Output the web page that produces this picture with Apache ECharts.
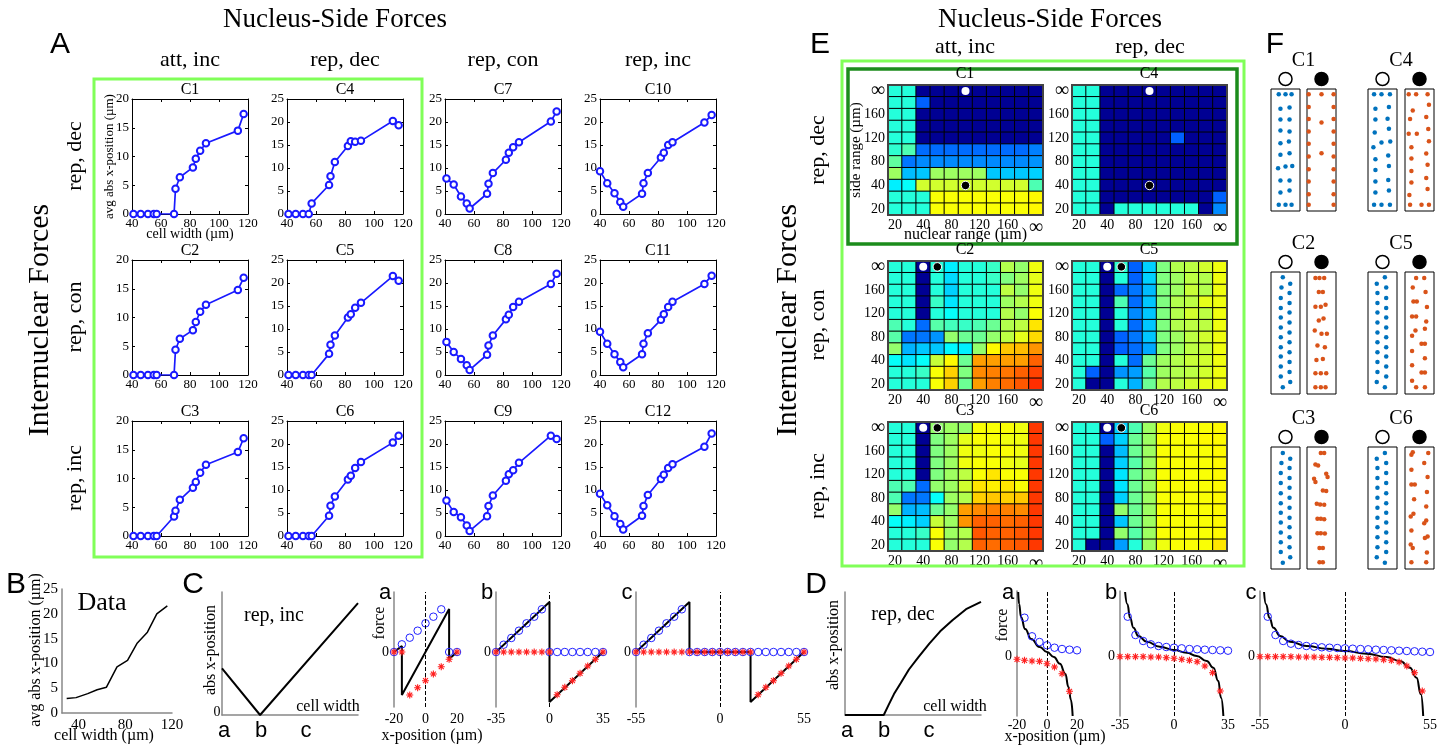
<!DOCTYPE html>
<html><head><meta charset="utf-8">
<script src="https://cdn.jsdelivr.net/npm/echarts@6.0.0/dist/echarts.min.js"></script>
<style>html,body{margin:0;padding:0;background:#fff}#c{width:1448px;height:746px}</style>
</head><body><div id="c"></div>
<script>
// ---------------- DATA ----------------
// Panel A: cell widths (µm) and avg abs x-position (µm)
const widthsA1 = [41,46,51,55,57,69,70,73,82,84,87,91,113,117];
const widthsA2 = [40,45,50,54,56,69,70,73,82,84,87,90,112,117];
const c1  = [0,0,0,0,0,0,4.4,6.4,8.1,9.6,11.0,12.3,14.5,17.4];
const c2  = [0,0,0,0,0,0,4.4,6.3,7.8,9.2,11.0,12.2,14.8,16.9];
const c3  = [0,0,0,0,0,3.4,4.4,6.3,8.4,9.4,11.0,12.4,14.6,17.0];
const c4  = [0,0,0,0,2.3,6.3,8.2,11.3,14.8,15.8,15.7,15.9,20.2,19.3];
const c5  = [0,0,0,0,0,4.6,6.6,8.6,12.5,13.2,14.6,15.7,21.5,20.5];
const c6  = [0,0,0,0,0,4.4,6.6,8.6,12.3,13.1,14.8,16.1,20.3,21.8];
const c7  = [7.7,6.4,3.8,2.3,1.2,4.4,6.6,8.9,11.8,13.3,14.5,15.6,20.1,22.3];
const c8  = [7.2,5.0,3.5,2.1,1.1,4.4,6.4,8.6,12.1,13.1,14.8,15.9,19.8,22.0];
const c9  = [7.7,5.2,4.1,2.3,1.1,4.3,6.5,8.8,12.0,13.4,14.3,15.9,21.8,21.1];
const c10 = [9.3,6.7,4.5,2.6,1.6,4.4,6.7,8.9,12.3,13.3,15.0,15.6,19.9,21.5];
const c11 = [9.4,6.8,4.5,2.8,1.7,4.5,6.8,9.1,12.0,13.2,14.8,15.9,19.8,21.6];
const c12 = [9.2,6.7,4.3,2.6,1.4,4.4,6.5,8.9,12.4,13.3,14.8,15.6,19.4,22.3];

// Panel B: measured data
const bWidth = [30,38,48,56,64,73,82,90,99,107,116];
const bPos   = [2.9,3.1,3.9,4.7,5.2,9.3,10.6,14.0,16.3,20.0,21.6];
const bTicksX = [40,80,120];

// Schematics (normalised)
const schemCx = [0,0.28,1];
const schemCy = [0.38,0,0.91];
const schemDx = [0,0.285,0.32,0.36,0.41,0.47,0.54,0.62,0.70,0.79,0.89,1.0];
const schemDy = [0,0,0.08,0.17,0.26,0.37,0.47,0.58,0.68,0.77,0.86,0.92];

// Panel C force plots
const caBlack = [[-20,0],[-15,6],[-15,-43],[15,43],[15,-7],[20,0]];
const caX = [-20,-15,-10,-5,0,5,10,15,20];
const caBlue = [0,7.7,14.3,21.3,28.7,35.3,42.7,0,0];
const caRed  = [0,0,-43,-35.7,-28.7,-22,-14.7,-7.3,0];
const cbBlack = [[-35,0],[0,50],[0,-50],[35,0]];
const cbX = [-35,-30,-25,-20,-15,-10,-5,0,5,10,15,20,25,30,35];
const cbBlue = [0,7.3,14,21.3,28.7,35.3,42.7,0,0,0,0,0,0,0,0];
const cbRed  = [0,0,0,0,0,0,0,0,-42.7,-35.3,-28.7,-21.3,-14,-7.3,0];
const ccBlack = [[-55,0],[-20,50],[-20,0],[20,0],[20,-50],[55,0]];
const ccX = [-55,-50,-45,-40,-35,-30,-25,-20,-15,-10,-5,0,5,10,15,20,25,30,35,40,45,50,55];
const ccBlue = [0,7.3,14,21.3,28.7,35.3,42.7,0,0,0,0,0,0,0,0,0,0,0,0,0,0,0,0];
const ccRed  = [0,0,0,0,0,0,0,0,0,0,0,0,0,0,0,0,-42.7,-35.3,-28.7,-21.3,-14,-7.3,0];

// Panel D force plots
const daBlack = [[-19.2,64],[-18.6,52],[-17.3,39],[-14.6,27],[-10.5,17],[-4.9,9],[0,4],[4.6,-1],[8.6,-7.7],[12.2,-17.7],[14.3,-31],[16,-44],[17.1,-60]];
const daBlueX = [-15,-10,-5,0,5,10,15,20];
const daBlue  = [38.3,19.7,14,10.7,8.3,7,6.3,5.7];
const daRedX  = [-20,-15,-10,-5,0,5,10,15];
const daRed   = [-3.3,-4.3,-5,-5.3,-7.7,-11,-17.7,-35.3];
const dbBlack = [[-31.7,64],[-30.2,51.7],[-28.5,38.3],[-26.3,28.3],[-23.1,20],[-17.7,14.3],[-9.1,9.3],[0,6],[8.2,3.3],[14.7,0],[21.2,-5],[25.5,-11.7],[28.7,-25],[30.5,-41.7],[32,-60]];
const dbBlueX = [-30,-25,-20,-15,-10,-5,0,5,10,15,20,25,30,35];
const dbBlue  = [39.3,21,15,11.7,10,9,8.3,7.7,7,6.7,6.3,6,5.7,5.3];
const dbRedX  = [-35,-30,-25,-20,-15,-10,-5,0,5,10,15,20,25,30];
const dbRed   = [-0.7,-0.7,-0.7,-0.7,-1,-1,-1.7,-2.3,-3.3,-4.3,-5.7,-10,-16.7,-35];
const dcBlack = [[-52.4,64],[-51.1,51.7],[-48.9,38.3],[-46.3,28.3],[-42,20],[-35.6,14.3],[-24.8,10],[-11.9,7.3],[0,5],[14,2.3],[26.9,-1],[35.6,-5],[42,-11.7],[46.3,-21.7],[49.1,-38.3],[50.6,-60]];
const dcBlueX = [-50,-45,-40,-35,-30,-25,-20,-15,-10,-5,0,5,10,15,20,25,30,35,40,45,50,55];
const dcBlue  = [39.3,21,15,12.3,11,10,9.3,8.7,8.3,8,7.7,7.3,7,6.7,6.3,6,5.7,5.3,5,4.7,4.3,4];
const dcRedX  = [-55,-50,-45,-40,-35,-30,-25,-20,-15,-10,-5,0,5,10,15,20,25,30,35,40,45,50];
const dcRed   = [-0.7,-0.7,-0.7,-0.7,-0.7,-1,-1,-1,-1.3,-1.3,-1.7,-2,-2,-2.3,-2.7,-3,-3.7,-4.3,-6,-10,-16.7,-35];

// Panel E heatmaps (rows from ∞ at top down to 20; jet position 0-100)
const heatTicks = ['20','','40','','80','','120','','160','','∞'];
const heatC1 = [
[41,41,2,2,2,2,2,2,2,2,2],[41,41,22,2,2,2,2,2,2,2,2],[41,41,2,2,2,2,2,2,2,2,2],[41,41,2,2,2,2,2,2,2,2,2],
[41,41,2,2,2,2,2,2,2,2,2],[42,45,23,23,23,23,23,23,23,23,25],[47,24,26,26,26,26,26,26,26,26,27],
[53,31,32,53,53,53,53,32,32,32,33],[36,38,58,58,58,58,58,58,58,58,45],[41,41,41,62,62,62,62,62,62,62,63],
[41,41,41,62,62,62,62,62,62,62,63]];
const heatC4 = [
[41,41,2,2,2,2,2,2,2,2,2],[41,41,2,2,2,2,2,2,2,2,2],[41,41,2,2,2,2,2,2,2,2,2],[41,41,2,2,2,2,2,2,2,2,2],
[41,41,2,2,2,2,2,22,2,2,2],[41,41,2,2,2,2,2,2,2,2,2],[41,41,2,2,2,2,2,2,2,2,2],[41,41,2,2,2,2,2,2,2,2,2],
[41,41,2,2,2,2,2,2,2,2,2],[41,41,2,2,2,2,2,2,2,2,22],[41,41,2,41,41,41,41,41,41,2,26]];
const heatC2 = [
[41,41,2,41,36,41,41,43,55,52,61],[41,41,2,41,34,41,41,43,50,53,60],[41,41,2,41,33,41,41,41,56,52,61],
[41,41,2,43,35,41,41,41,53,55,61],[41,41,2,41,38,41,41,41,55,52,62],[45,41,23,46,44,43,45,48,55,56,65],
[46,24,24,27,52,48,48,52,56,60,66],[52,30,32,32,37,36,52,63,68,69,73],[38,35,38,57,63,48,72,72,72,72,78],
[41,41,43,62,67,50,74,75,76,78,81],[41,41,41,62,67,48,72,75,77,79,83]];
const heatC5 = [
[41,41,2,42,22,33,50,55,56,58,61],[41,41,2,41,22,33,50,53,56,55,61],[41,41,2,23,24,31,50,53,57,55,61],
[41,41,2,45,23,32,50,55,56,60,61],[41,41,2,41,26,32,50,55,58,56,61],[41,41,2,41,23,32,50,55,56,56,61],
[41,41,2,22,24,32,50,53,56,58,61],[41,41,2,22,23,29,50,53,56,57,61],[41,41,2,41,23,48,53,55,57,58,61],
[41,22,2,27,28,46,53,55,56,58,61],[41,2,2,41,30,48,55,56,58,60,61]];
const heatC3 = [
[41,41,2,52,53,52,62,62,62,61,82],[41,41,2,50,53,60,62,62,61,61,82],[41,41,2,50,53,61,61,62,62,61,82],
[41,41,2,50,53,61,62,62,61,60,82],[41,41,2,50,53,56,62,65,62,62,82],[45,45,23,52,53,58,65,64,65,62,82],
[45,24,24,38,53,55,67,68,67,68,82],[52,30,31,48,52,72,74,75,75,74,82],[38,36,33,57,53,73,78,78,77,78,82],
[41,41,43,62,53,55,79,78,78,79,82],[41,41,41,62,52,55,78,77,78,79,82]];
const heatC6 = [
[41,41,2,33,45,53,61,62,62,62,63],[41,41,22,33,48,53,62,62,62,63,63],[41,41,2,31,48,53,62,62,62,62,63],
[41,41,2,33,46,53,62,62,62,62,63],[41,41,2,35,48,53,62,62,62,62,63],[41,41,2,35,48,53,62,62,62,62,63],
[41,41,2,33,48,53,62,62,62,62,63],[41,41,2,52,48,53,62,62,62,62,63],[41,41,2,32,48,53,62,62,62,62,63],
[41,41,2,52,46,53,62,62,62,62,63],[41,2,2,28,41,53,61,62,62,62,65]];
// marked parameter cells [col,row-from-bottom]
const markWhiteA = [5,10], markBlackA = [5,2];
const markWhiteB = [2,10], markBlackB = [3,10];

// Panel F nucleus positions (box units: x 0-86, y 0-365)
const fC1b = [[23,349],[43,349],[61,349],[28,306],[55,310],[28,274],[55,274],[28,241],[55,238],[28,203],[53,208],[28,168],[55,173],[21,128],[43,133],[63,135],[28,91],[55,91],[28,55],[55,61],[23,19],[43,19],[61,19]];
const fC1o = [[5,349],[43,349],[79,349],[5,311],[79,311],[5,275],[79,275],[43,265],[5,238],[79,238],[5,201],[79,201],[43,173],[5,163],[79,163],[5,125],[79,125],[5,88],[79,88],[5,50],[79,50],[5,19],[79,19]];
const fC4b = [[18,349],[40,349],[65,349],[22,306],[62,311],[22,274],[58,276],[20,235],[62,246],[16,191],[40,205],[66,208],[22,155],[60,166],[22,123],[62,135],[22,88],[60,93],[22,55],[62,61],[18,19],[40,19],[65,19]];
const fC4o = [[11,349],[33,349],[67,349],[71,318],[23,301],[15,275],[63,281],[69,245],[11,231],[35,231],[71,209],[19,191],[63,172],[19,157],[67,138],[19,120],[63,99],[19,85],[67,66],[13,48],[15,19],[49,19],[71,19]];
const fC2b = [[35,349],[57,330],[31,319],[55,302],[29,287],[55,272],[29,257],[55,244],[29,229],[55,214],[29,199],[55,184],[29,170],[55,155],[29,140],[55,125],[29,112],[55,96],[29,82],[55,66],[29,52],[57,36],[35,20]];
const fC2o = [[25,347],[37,347],[51,347],[35,305],[47,305],[25,261],[41,261],[55,267],[35,220],[49,226],[23,190],[43,180],[59,180],[31,145],[53,140],[28,102],[47,105],[25,62],[41,62],[57,62],[25,20],[41,20],[55,20]];
const fC5b = [[50,349],[26,330],[54,319],[28,302],[54,287],[28,272],[54,257],[28,244],[54,229],[28,214],[54,199],[28,184],[54,170],[28,155],[54,140],[28,125],[54,112],[28,96],[54,82],[28,66],[54,52],[26,36],[50,20]];
const fC5o = [[33,347],[57,347],[23,319],[61,305],[25,277],[35,277],[65,260],[21,232],[33,232],[63,217],[31,190],[21,174],[59,195],[49,150],[59,150],[21,129],[59,107],[21,86],[49,64],[59,64],[21,40],[33,20],[59,20]];
const fC3b = [[35,347],[57,330],[31,317],[55,302],[29,287],[55,272],[29,257],[55,243],[29,227],[55,213],[29,197],[55,183],[29,168],[55,153],[29,139],[55,125],[29,109],[55,95],[29,80],[55,65],[29,51],[57,35],[35,19]];
const fC3o = [[41,347],[51,347],[25,313],[33,310],[57,285],[61,275],[21,270],[25,260],[47,235],[57,233],[29,195],[39,193],[51,192],[31,150],[41,150],[51,149],[31,107],[41,107],[53,106],[37,63],[47,63],[37,20],[47,20]];
const fC6b = [[50,347],[26,330],[54,317],[28,302],[54,287],[28,272],[54,257],[28,243],[54,227],[28,213],[54,197],[28,183],[54,168],[28,153],[54,139],[28,125],[54,109],[28,95],[54,80],[28,65],[54,51],[26,35],[50,19]];
const fC6o = [[19,342],[23,349],[69,347],[57,317],[19,297],[67,275],[19,253],[29,253],[65,230],[27,209],[63,187],[17,157],[25,165],[63,145],[57,137],[19,115],[67,97],[59,93],[17,73],[23,63],[65,49],[19,20],[63,20]];

// ---------------- BUILD ----------------
const SERIF = "'Liberation Serif', 'Times New Roman', serif";
const SANS = "'Liberation Sans', Arial, sans-serif";
const BLUE = '#1a1aff';
const ASTER = 'path://M-0.8,-5L0.8,-5L0.8,5L-0.8,5Z M-5,-0.8L5,-0.8L5,0.8L-5,0.8Z M-4.1,-2.97L-2.97,-4.1L4.1,2.97L2.97,4.1Z M2.97,-4.1L4.1,-2.97L-2.97,4.1L-4.1,2.97Z';
const jet = ['#00007F','#0000FF','#0080FF','#00FFFF','#80FF80','#FFFF00','#FF8000','#FF0000','#7F0000'];

const option = {animation:false, backgroundColor:'#fff', grid:[], xAxis:[], yAxis:[], series:[], graphic:[]};
const G = option.graphic;
function T(x, y, text, size, o) {
  o = o || {};
  G.push({type:'text', x:x, y:y, rotation:o.rot||0, silent:true, z:100,
    style:{text:text, x:0, y:0, fill:'#000', font:(o.weight||'normal')+' '+size+'px '+(o.family||SERIF),
      align:'center', verticalAlign:'middle', textAlign:'center', textVerticalAlign:'middle'}});
}
function Rect(x, y, w, h, stroke, lw) {
  G.push({type:'rect', silent:true, z:90, shape:{x:x, y:y, width:w, height:h}, style:{fill:'none', stroke:stroke, lineWidth:lw}});
}
function Circ(cx, cy, r, fill) {
  G.push({type:'circle', silent:true, z:90, shape:{cx:cx, cy:cy, r:r}, style:{fill:fill, stroke:'#000', lineWidth:1.5}});
}
function addGrid(g, xa, ya) {
  const gi = option.grid.length;
  option.grid.push(Object.assign({outerBoundsMode:'none', containLabel:false}, g));
  const xi = option.xAxis.length; option.xAxis.push(Object.assign({gridIndex:gi}, xa));
  const yi = option.yAxis.length; option.yAxis.push(Object.assign({gridIndex:gi}, ya));
  return {gi:gi, xi:xi, yi:yi};
}
const lbl = (size) => ({color:'#000', fontFamily:SERIF, fontSize:size});

// ===== Panel A =====
const aVals = [c1,c2,c3,c4,c5,c6,c7,c8,c9,c10,c11,c12];
const aCols = [132,287,445,600], aRows = [99,260,421];
for (let c = 0; c < 4; c++) {
  for (let r = 0; r < 3; r++) {
    const idx = c*3 + r;
    const xs = c === 3 ? widthsA2 : widthsA1;
    const ys = aVals[idx];
    const ymax = c === 0 ? 20 : 25;
    const L = aCols[c], Tp = aRows[r], W = 116, H = 115;
    const tick = {inside:true, length:3, lineStyle:{color:'#000', width:1}};
    const xa = {type:'value', min:40, max:120, interval:20, axisLine:{show:true, onZero:false, lineStyle:{color:'#000', width:1}},
      axisTick:tick, splitLine:{show:false}, axisLabel:Object.assign(lbl(13), {margin:3, showMinLabel:true, showMaxLabel:true})};
    const ya = {type:'value', min:0, max:ymax, interval:5, axisLine:{show:true, onZero:false, lineStyle:{color:'#000', width:1}},
      axisTick:tick, splitLine:{show:false}, axisLabel:Object.assign(lbl(13), {margin:3, showMinLabel:true, showMaxLabel:true})};
    if (idx === 0) {
      ya.name = 'avg abs x-position (µm)'; ya.nameLocation = 'middle'; ya.nameGap = 16; ya.nameMoveOverlap = false;
      ya.nameTextStyle = {color:'#000', fontFamily:SERIF, fontSize:13};
      xa.name = 'cell width (µm)'; xa.nameLocation = 'middle'; xa.nameGap = 13; xa.nameMoveOverlap = false;
      xa.nameTextStyle = {color:'#000', fontFamily:SERIF, fontSize:14};
    }
    const g = addGrid({left:L, top:Tp, width:W, height:H}, xa, ya);
    option.xAxis.push({gridIndex:g.gi, type:'value', position:'top', min:40, max:120, interval:20,
      axisLine:{show:true, onZero:false, lineStyle:{color:'#000', width:1}}, axisTick:tick, axisLabel:{show:false}, splitLine:{show:false}});
    option.yAxis.push({gridIndex:g.gi, type:'value', position:'right', min:0, max:ymax, interval:5,
      axisLine:{show:true, onZero:false, lineStyle:{color:'#000', width:1}}, axisTick:tick, axisLabel:{show:false}, splitLine:{show:false}});
    option.series.push({type:'line', xAxisIndex:g.xi, yAxisIndex:g.yi, data:xs.map((x,i)=>[x, ys[i]]),
      symbol:'emptyCircle', symbolSize:6.5, itemStyle:{color:BLUE, borderWidth:1.6}, lineStyle:{color:BLUE, width:1.7}});
    T(L + W/2, Tp - 9, 'C' + (idx+1), 16);
  }
}
Rect(94, 79, 328, 478, '#80ff58', 3);
T(60, 45, 'A', 30, {family:SANS});
T(335, 20, 'Nucleus-Side Forces', 27);
['att, inc','rep, dec','rep, con','rep, inc'].forEach((s,i)=>T(aCols[i]+58, 60, s, 22));
['rep, dec','rep, con','rep, inc'].forEach((s,i)=>T(75, aRows[i]+57, s, 22, {rot:Math.PI/2}));
T(40, 320, 'Internuclear Forces', 30, {rot:Math.PI/2});

// ===== Panel B =====
{
  const g = addGrid({left:62, top:589, width:110, height:124},
    {type:'value', min:26, max:120, axisLine:{show:true, onZero:false, lineStyle:{color:'#888', width:1.5}},
     axisTick:{show:false, customValues:bTicksX}, splitLine:{show:false},
     axisLabel:Object.assign(lbl(15), {margin:5, customValues:bTicksX})},
    {type:'value', min:0, max:25, interval:5, axisLine:{show:true, onZero:false, lineStyle:{color:'#888', width:1.5}},
     axisTick:{show:false}, splitLine:{show:false}, axisLabel:Object.assign(lbl(15), {margin:4})});
  option.series.push({type:'line', xAxisIndex:g.xi, yAxisIndex:g.yi, data:bWidth.map((x,i)=>[x,bPos[i]]),
    symbol:'none', lineStyle:{color:'#000', width:1.5}});
  T(16, 585, 'B', 30, {family:SANS});
  T(102, 603, 'Data', 26);
  T(36, 650, 'avg abs x-position (µm)', 16, {rot:Math.PI/2});
  T(104, 736, 'cell width (µm)', 16);
}

// ===== Schematics =====
function schematic(L, xs, ys) {
  const g = addGrid({left:L, top:592, width:136, height:123},
    {type:'value', min:0, max:1, axisLine:{show:true, onZero:false, lineStyle:{color:'#888', width:1.5}}, axisTick:{show:false}, axisLabel:{show:false}, splitLine:{show:false}},
    {type:'value', min:0, max:1, axisLine:{show:true, onZero:false, lineStyle:{color:'#888', width:1.5}}, axisTick:{show:false}, axisLabel:{show:false}, splitLine:{show:false}});
  option.series.push({type:'line', xAxisIndex:g.xi, yAxisIndex:g.yi, data:xs.map((x,i)=>[x,ys[i]]),
    symbol:'none', lineStyle:{color:'#000', width:2}});
}
schematic(222, schemCx, schemCy);
schematic(845, schemDx, schemDy);
T(193, 585, 'C', 30, {family:SANS});
T(816, 585, 'D', 30, {family:SANS});
T(217, 712, '0', 14);
T(211, 650, 'abs x-position', 16, {rot:Math.PI/2});
T(834, 645, 'abs x-position', 16, {rot:Math.PI/2});
T(274, 616, 'rep, inc', 20);
T(903, 615, 'rep, dec', 20);
T(328, 707, 'cell width', 16);
T(955, 707, 'cell width', 16);
['a','b','c'].forEach((s,i)=>{ T([224,261,306][i], 731, s, 22, {family:SANS}); T([847,884,929][i], 731, s, 22, {family:SANS}); });

// ===== Force plots =====
function forcePlot(L, W, top, H, xr, yr, black, blueX, blueY, redX, redY, smooth, letter, margin) {
  const g = addGrid({left:L, top:top, width:W, height:H},
    {type:'value', min:-xr, max:xr, interval:xr, axisLine:{show:false, onZero:false}, axisTick:{show:false}, splitLine:{show:false},
     axisLabel:Object.assign(lbl(14), {margin:margin, showMinLabel:true, showMaxLabel:true})},
    {type:'value', min:yr[0], max:yr[1], interval:-yr[0], axisLine:{show:true, onZero:false, lineStyle:{color:'#888', width:1.5}},
     axisTick:{show:false}, splitLine:{show:false}, axisLabel:Object.assign(lbl(14), {margin:5, formatter:v=>v===0?'0':''})});
  option.series.push({type:'line', xAxisIndex:g.xi, yAxisIndex:g.yi, data:black, symbol:'none', smooth:smooth, smoothMonotone:'x',
    lineStyle:{color:'#000', width:2}, z:3,
    markLine:{silent:true, symbol:['none','none'], label:{show:false}, lineStyle:{color:'#000', type:'dashed', width:1}, data:[{xAxis:0}]}});
  option.series.push({type:'scatter', xAxisIndex:g.xi, yAxisIndex:g.yi, data:blueX.map((x,i)=>[x,blueY[i]]),
    symbol:'circle', symbolSize:7.5, itemStyle:{color:'rgba(0,0,0,0)', borderColor:'#2222ff', borderWidth:1, opacity:1}, z:4});
  option.series.push({type:'scatter', xAxisIndex:g.xi, yAxisIndex:g.yi, data:redX.map((x,i)=>[x,redY[i]]),
    symbol:ASTER, symbolSize:7, itemStyle:{color:'#ff2020', opacity:1}, z:5});
  T(L - 9, 593, letter, 22, {family:SANS});
}
forcePlot(394, 63, 592, 115, 20, [-55,60], caBlack, caX, caBlue, caX, caRed, false, 'a', 5);
forcePlot(496, 107, 592, 115, 35, [-55,60], cbBlack, cbX, cbBlue, cbX, cbRed, false, 'b', 5);
forcePlot(636, 168, 592, 115, 55, [-55,60], ccBlack, ccX, ccBlue, ccX, ccRed, false, 'c', 5);
forcePlot(1017, 60, 591, 125, 20, [-60,65], daBlack, daBlueX, daBlue, daRedX, daRed, true, 'a', 2);
forcePlot(1120, 108, 591, 125, 35, [-60,65], dbBlack, dbBlueX, dbBlue, dbRedX, dbRed, true, 'b', 2);
forcePlot(1260, 170, 591, 125, 55, [-60,65], dcBlack, dcBlueX, dcBlue, dcRedX, dcRed, true, 'c', 2);
T(380, 623, 'force', 16, {rot:Math.PI/2});
T(1003, 625, 'force', 16, {rot:Math.PI/2});
T(432, 736, 'x-position (µm)', 16);
T(1055, 737, 'x-position (µm)', 16);

// ===== Panel E =====
const heatIdx = [];
const heatCats = heatTicks.map((_,i)=>String(i));
const heatLabel = (v, i) => heatTicks[i] === '∞' ? '{inf|∞}' : heatTicks[i];
const heatRich = {inf:{fontSize:20, fontFamily:SERIF, color:'#000'}};
const heats = [
  {n:'C1', d:heatC1, l:888, t:85,  h:130, m:[markWhiteA, markBlackA], names:true},
  {n:'C4', d:heatC4, l:1072, t:85, h:130, m:[markWhiteA, markBlackA]},
  {n:'C2', d:heatC2, l:888, t:261, h:129, m:[markWhiteB, markBlackB]},
  {n:'C5', d:heatC5, l:1072, t:261, h:129, m:[markWhiteB, markBlackB]},
  {n:'C3', d:heatC3, l:888, t:422, h:129, m:[markWhiteB, markBlackB]},
  {n:'C6', d:heatC6, l:1072, t:422, h:129, m:[markWhiteB, markBlackB]}];
heats.forEach(hm => {
  const xa = {type:'category', data:heatCats, axisLine:{show:false}, axisTick:{show:false}, splitLine:{show:false},
    axisLabel:Object.assign(lbl(14), {interval:0, margin:3, formatter:heatLabel, rich:heatRich})};
  const ya = {type:'category', data:heatCats, axisLine:{show:false}, axisTick:{show:false}, splitLine:{show:false},
    axisLabel:Object.assign(lbl(14), {interval:0, margin:3, formatter:heatLabel, rich:heatRich})};
  if (hm.names) {
    xa.name = 'nuclear range (µm)'; xa.nameLocation = 'middle'; xa.nameGap = 12; xa.nameMoveOverlap = false;
    xa.nameTextStyle = {color:'#000', fontFamily:SERIF, fontSize:16};
    ya.name = 'side range (µm)'; ya.nameLocation = 'middle'; ya.nameGap = 24; ya.nameMoveOverlap = false;
    ya.nameTextStyle = {color:'#000', fontFamily:SERIF, fontSize:15};
  }
  const g = addGrid({left:hm.l, top:hm.t, width:155, height:hm.h, show:true, borderColor:'#444', borderWidth:2, backgroundColor:'transparent', z:3}, xa, ya);
  const data = [];
  hm.d.forEach((row, r) => row.forEach((v, c) => data.push([c, 10 - r, v])));
  heatIdx.push(option.series.length);
  option.series.push({type:'heatmap', xAxisIndex:g.xi, yAxisIndex:g.yi, data:data, progressive:0,
    itemStyle:{borderColor:'#000', borderWidth:1}, emphasis:{disabled:true}});
  option.series.push({type:'scatter', xAxisIndex:g.xi, yAxisIndex:g.yi, data:[hm.m[0]], symbolSize:8, z:5,
    itemStyle:{color:'#ffffff', borderWidth:0, opacity:1}});
  option.series.push({type:'scatter', xAxisIndex:g.xi, yAxisIndex:g.yi, data:[hm.m[1]], symbolSize:8.5, z:5,
    itemStyle:{color:'#000', borderColor:'#fff', borderWidth:1, opacity:1}});
  T(hm.l + 77, hm.t - 11, hm.n, 16);
});
option.visualMap = [{type:'continuous', show:false, min:0, max:100, dimension:2, seriesIndex:heatIdx, inRange:{color:jet}}];
Rect(842, 61, 402, 505, '#80ff58', 3);
Rect(848, 69, 389, 175, '#1c8c1c', 3.5);
T(820, 45, 'E', 30, {family:SANS});
T(1050, 20, 'Nucleus-Side Forces', 27);
T(965, 47, 'att, inc', 22);
T(1150, 47, 'rep, dec', 22);
['rep, dec','rep, con','rep, inc'].forEach((s,i)=>T(818, [150,325,486][i], s, 22, {rot:Math.PI/2}));
T(788, 320, 'Internuclear Forces', 30, {rot:Math.PI/2});

// ===== Panel F =====
const fSets = [[fC1b,fC1o,fC4b,fC4o],[fC2b,fC2o,fC5b,fC5o],[fC3b,fC3o,fC6b,fC6o]];
const fNames = [['C1','C4'],['C2','C5'],['C3','C6']];
const fLefts = [1271,1307,1368,1405], fTops = [89,272,447];
fSets.forEach((set, r) => {
  set.forEach((pts, k) => {
    const L = fLefts[k], Tp = fTops[r];
    const g = addGrid({left:L, top:Tp, width:29, height:122, show:true, borderColor:'#000', borderWidth:1},
      {type:'value', min:0, max:86, show:false}, {type:'value', min:0, max:365, show:false});
    option.series.push({type:'scatter', xAxisIndex:g.xi, yAxisIndex:g.yi, data:pts, symbolSize:4.5,
      itemStyle:{color: k % 2 === 0 ? '#0072BD' : '#D95319', opacity:1}});
    if (k % 2 === 0) Circ(L + 14.5, Tp - 10, 6.5, '#fff'); else Circ(L + 14.5, Tp - 10, 6.5, '#000');
  });
  T(1303.5, fTops[r] - 28, fNames[r][0], 20);
  T(1401, fTops[r] - 28, fNames[r][1], 20);
});
T(1275, 45, 'F', 30, {family:SANS});

const chart = echarts.init(document.getElementById('c'), null, {renderer:'canvas', width:1448, height:746});
chart.setOption(option);
</script></body></html>
